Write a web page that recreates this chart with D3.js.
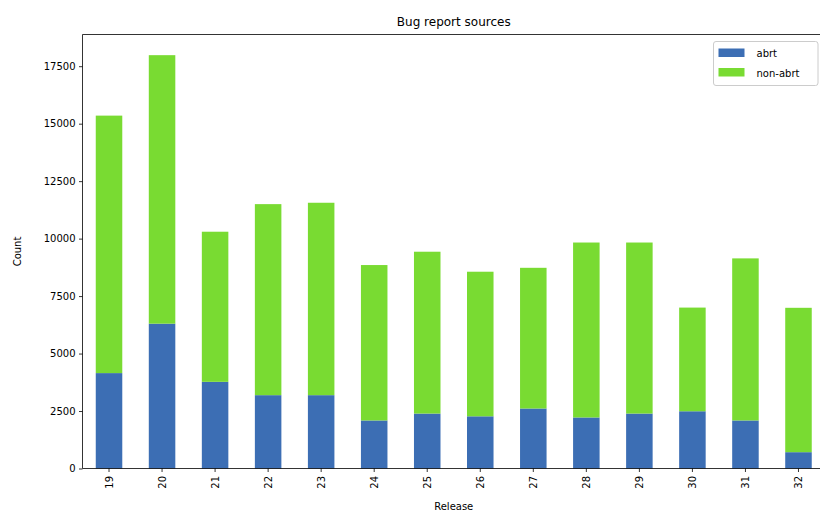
<!DOCTYPE html>
<html>
<head>
<meta charset="utf-8">
<script src="https://cdn.jsdelivr.net/npm/d3@7"></script>
<style>
  html, body { margin: 0; padding: 0; background: #fff; }
  svg { display: block; font-family: "DejaVu Sans", sans-serif; }
</style>
</head>
<body>
<svg id="chart" width="820" height="514"></svg>
<script>
const releases = ["19","20","21","22","23","24","25","26","27","28","29","30","31","32"];
const abrt =    [4150, 6300, 3770, 3190, 3190, 2090, 2390, 2270, 2610, 2220, 2390, 2490, 2090, 710];
const nonAbrt = [11200, 11680, 6530, 8310, 8370, 6760, 7040, 6290, 6120, 7610, 7440, 4510, 7050, 6280];
const seriesNames = ["abrt", "non-abrt"];
const seriesColors = ["#3c6eb4", "#79db32"];
const yTicks = [0, 2500, 5000, 7500, 10000, 12500, 15000, 17500];

const svg = d3.select("#chart");
const pLeft = 82.5, pRight = 825, pTop = 34.5, pBottom = 468.5;

const rows = releases.map((r, i) => ({release: r, "abrt": abrt[i], "non-abrt": nonAbrt[i]}));
const stack = d3.stack().keys(seriesNames)(rows);
const maxTotal = d3.max(rows, d => d.abrt + d["non-abrt"]);

const x = d3.scaleBand().domain(releases).range([pLeft, pRight]).paddingInner(0.5).paddingOuter(0.25);
const y = d3.scaleLinear().domain([0, maxTotal * 1.05]).range([pBottom, pTop]);

// bars
svg.append("g").selectAll("g").data(stack).join("g")
  .attr("fill", (d, i) => seriesColors[i])
  .selectAll("rect").data(d => d).join("rect")
  .attr("x", d => x(d.data.release))
  .attr("width", x.bandwidth())
  .attr("y", d => y(d[1]))
  .attr("height", d => y(d[0]) - y(d[1]));

// axes
const yAxis = svg.append("g").attr("transform", `translate(${pLeft},0)`)
  .call(d3.axisLeft(y).tickValues(yTicks).tickFormat(d3.format("d"))
    .tickSize(3.5).tickPadding(3.5).tickSizeOuter(0));
const xAxis = svg.append("g").attr("transform", `translate(0,${pBottom})`)
  .call(d3.axisBottom(x).tickSize(3.5).tickPadding(3.5).tickSizeOuter(0));

[yAxis, xAxis].forEach(g => {
  g.selectAll(".domain").remove();
  g.selectAll("line").attr("stroke", "#000").attr("stroke-width", 0.8);
  g.selectAll("text").attr("fill", "#000").attr("font-size", 10).attr("font-family", "DejaVu Sans");
});

xAxis.selectAll("text")
  .attr("transform", "rotate(-90)")
  .attr("x", -7.5)
  .attr("y", 0)
  .attr("dy", "0.35em")
  .attr("text-anchor", "end");

// spines
const sp = svg.append("g").attr("stroke", "#000").attr("stroke-width", 0.8).attr("fill", "none");
sp.append("line").attr("x1", pLeft).attr("x2", pLeft).attr("y1", pTop).attr("y2", pBottom);
sp.append("line").attr("x1", pLeft).attr("x2", pRight).attr("y1", pBottom).attr("y2", pBottom);
sp.append("line").attr("x1", pLeft).attr("x2", pRight).attr("y1", pTop).attr("y2", pTop);
sp.append("line").attr("x1", pRight).attr("x2", pRight).attr("y1", pTop).attr("y2", pBottom);

// title and labels
svg.append("text").attr("x", (pLeft + pRight) / 2).attr("y", 26)
  .attr("text-anchor", "middle").attr("font-size", 12).attr("fill", "#000")
  .text("Bug report sources");
svg.append("text").attr("x", (pLeft + pRight) / 2).attr("y", 510)
  .attr("text-anchor", "middle").attr("font-size", 10).attr("fill", "#000")
  .text("Release");
svg.append("text")
  .attr("transform", `translate(20.5,${(pTop + pBottom) / 2}) rotate(-90)`)
  .attr("text-anchor", "middle").attr("font-size", 10).attr("fill", "#000")
  .text("Count");

// legend
const lg = svg.append("g");
lg.append("rect").attr("x", 713.5).attr("y", 41.5).attr("width", 104.5).attr("height", 44)
  .attr("rx", 2.5).attr("fill", "#fff").attr("fill-opacity", 0.8)
  .attr("stroke", "#cccccc").attr("stroke-width", 1);
seriesNames.forEach((name, i) => {
  const yy = 48.5 + i * 19.5;
  lg.append("rect").attr("x", 718.5).attr("y", yy).attr("width", 26).attr("height", 8.5)
    .attr("fill", seriesColors[i]);
  lg.append("text").attr("x", 756.5).attr("y", yy + 8.5).attr("font-size", 10).attr("fill", "#000")
    .text(name);
});
</script>
</body>
</html>
